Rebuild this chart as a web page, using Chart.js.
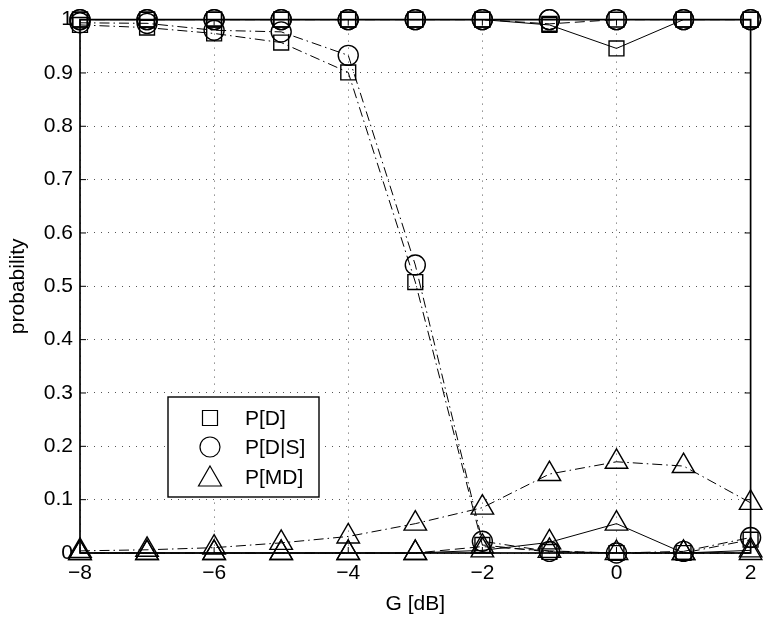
<!DOCTYPE html>
<html>
<head>
<meta charset="utf-8">
<script src="https://cdn.jsdelivr.net/npm/chart.js@4/dist/chart.umd.min.js"></script>
<style>
  html, body { margin: 0; padding: 0; background: #fff; }
  #wrap { width: 765px; height: 619px; }
</style>
</head>
<body>
<div id="wrap"><canvas id="chart"></canvas></div>
<script>
// G [dB] values
const gains = [-8, -7, -6, -5, -4, -3, -2, -1, 0, 1, 2];

const xTickLabels = ['\u22128', '\u22126', '\u22124', '\u22122', '0', '2'];
const yTickLabels = ['0', '0.1', '0.2', '0.3', '0.4', '0.5', '0.6', '0.7', '0.8', '0.9', '1'];

// solid curves
const solidPD  = [1, 1, 1, 1, 1, 1, 1, 0.99, 0.946, 1, 1];
const solidPDS = [1, 1, 1, 1, 1, 1, 1, 1, 1, 1, 1];
const solidPMD = [0, 0, 0, 0, 0, 0, 0.005, 0.02, 0.055, 0, 0.005];

// dashed curves
const dashPD  = [1, 1, 1, 1, 1, 1, 1, 0.992, 1, 1, 1];
const dashPDS = [1, 1, 1, 1, 1, 1, 1, 1, 1, 1, 1];
const dashPMD = [0, 0, 0, 0, 0, 0, 0.012, 0.004, 0, 0, 0];

// dash-dot curves
const dotPD  = [0.99, 0.985, 0.974, 0.957, 0.901, 0.508, 0.015, 0.002, 0, 0, 0.025];
const dotPDS = [0.994, 0.993, 0.98, 0.977, 0.933, 0.54, 0.022, 0.003, 0, 0.003, 0.029];
const dotPMD = [0.004, 0.006, 0.01, 0.019, 0.031, 0.055, 0.085, 0.148, 0.171, 0.163, 0.094];

const legendLabels = ['P[D]', 'P[D|S]', 'P[MD]'];

const FONT = '"Liberation Sans", Arial, Helvetica, sans-serif';
const DASH = [10, 5];
const DASHDOT = [10, 4, 1.5, 4];

function series(values, style, dash) {
    const radius = style === 'triangle' ? 13 : (style === 'rect' ? 10.5 : 10);
    return {
        data: gains.map((g, i) => ({ x: g, y: values[i] })),
        borderColor: '#000',
        borderWidth: 1,
        borderDash: dash,
        backgroundColor: 'transparent',
        pointStyle: style,
        pointRadius: radius,
        pointHoverRadius: radius,
        pointBorderColor: '#000',
        pointBackgroundColor: 'transparent',
        pointBorderWidth: 1.4,
        tension: 0,
        fill: false,
        clip: false
    };
}

const axesBox = {
    id: 'axesBox',
    beforeDatasetsDraw(chart) {
        const { ctx, chartArea: a, scales } = chart;
        ctx.save();
        ctx.strokeStyle = '#000';
        ctx.lineWidth = 1;
        const len = 6;
        ctx.beginPath();
        scales.x.ticks.forEach(t => {
            const px = scales.x.getPixelForValue(t.value);
            ctx.moveTo(px, a.bottom); ctx.lineTo(px, a.bottom - len);
            ctx.moveTo(px, a.top); ctx.lineTo(px, a.top + len);
        });
        scales.y.ticks.forEach(t => {
            const py = scales.y.getPixelForValue(t.value);
            ctx.moveTo(a.left, py); ctx.lineTo(a.left + len, py);
            ctx.moveTo(a.right, py); ctx.lineTo(a.right - len, py);
        });
        ctx.stroke();
        ctx.lineWidth = 1.7;
        ctx.strokeRect(a.left, a.top, a.right - a.left, a.bottom - a.top);
        ctx.restore();
    }
};

const markerLegend = {
    id: 'markerLegend',
    afterDraw(chart) {
        const ctx = chart.ctx;
        const box = { x: 168, y: 397, w: 151, h: 100 };
        ctx.save();
        ctx.fillStyle = '#fff';
        ctx.fillRect(box.x, box.y, box.w, box.h);
        ctx.strokeStyle = '#000';
        ctx.lineWidth = 1.4;
        ctx.strokeRect(box.x, box.y, box.w, box.h);
        const mx = 210, tx = 245;
        const rows = [418, 447, 477];
        ctx.lineWidth = 1.2;
        // square
        ctx.beginPath();
        ctx.rect(mx - 7.5, rows[0] - 7.5, 15, 15);
        ctx.stroke();
        // circle
        ctx.beginPath();
        ctx.arc(mx, rows[1], 10, 0, Math.PI * 2);
        ctx.stroke();
        // triangle
        ctx.beginPath();
        ctx.moveTo(mx, rows[2] - 11);
        ctx.lineTo(mx + 11.5, rows[2] + 9);
        ctx.lineTo(mx - 11.5, rows[2] + 9);
        ctx.closePath();
        ctx.stroke();
        ctx.fillStyle = '#000';
        ctx.font = '21px ' + FONT;
        ctx.textBaseline = 'middle';
        ctx.textAlign = 'left';
        legendLabels.forEach((lbl, i) => ctx.fillText(lbl, tx, rows[i] + 1));
        ctx.restore();
    }
};

new Chart(document.getElementById('chart'), {
    type: 'line',
    data: {
        datasets: [
            series(solidPD, 'rect', []),
            series(solidPDS, 'circle', []),
            series(solidPMD, 'triangle', []),
            series(dashPD, 'rect', DASH),
            series(dashPDS, 'circle', DASH),
            series(dashPMD, 'triangle', DASH),
            series(dotPD, 'rect', DASHDOT),
            series(dotPDS, 'circle', DASHDOT),
            series(dotPMD, 'triangle', DASHDOT)
        ]
    },
    options: {
        responsive: true,
        maintainAspectRatio: false,
        animation: false,
        layout: { padding: { top: 19, right: 6, left: 0, bottom: 0 } },
        plugins: {
            legend: { display: false },
            tooltip: { enabled: false }
        },
        scales: {
            x: {
                type: 'linear',
                min: -8,
                max: 2,
                afterFit: s => { s.height = 66; },
                ticks: {
                    stepSize: 2,
                    color: '#000',
                    padding: 8,
                    maxRotation: 0,
                    font: { family: FONT, size: 21 },
                    callback: (v, i) => xTickLabels[i]
                },
                grid: { color: '#555', lineWidth: 1, drawTicks: false },
                border: { display: false, dash: [1, 6] },
                title: {
                    display: true,
                    text: 'G [dB]',
                    color: '#000',
                    font: { family: FONT, size: 21 },
                    padding: { top: 0, bottom: 2 }
                }
            },
            y: {
                type: 'linear',
                min: 0,
                max: 1,
                afterFit: s => { s.width = 80; },
                ticks: {
                    stepSize: 0.1,
                    color: '#000',
                    padding: 7,
                    font: { family: FONT, size: 21 },
                    callback: (v, i) => yTickLabels[i]
                },
                grid: { color: '#555', lineWidth: 1, drawTicks: false },
                border: { display: false, dash: [1, 6] },
                title: {
                    display: true,
                    text: 'probability',
                    color: '#000',
                    font: { family: FONT, size: 21 },
                    padding: { top: 6, bottom: 0 }
                }
            }
        }
    },
    plugins: [axesBox, markerLegend]
});
</script>
</body>
</html>
